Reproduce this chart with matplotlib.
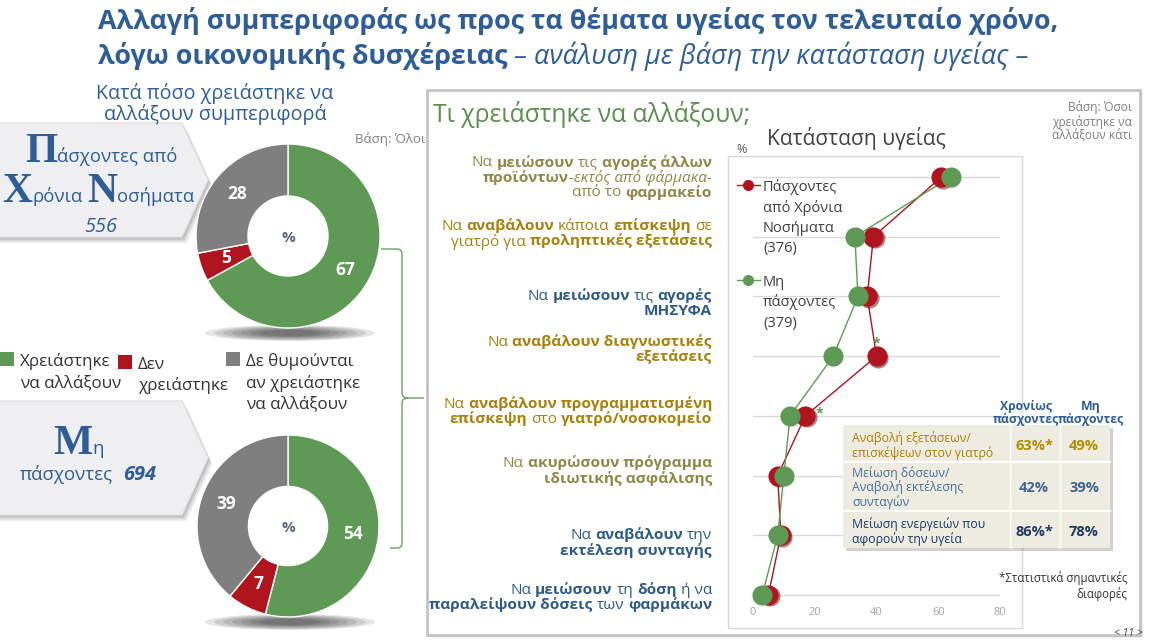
import math
import matplotlib
matplotlib.use('Agg')
import matplotlib.pyplot as plt
from matplotlib.patches import Polygon, Rectangle, Ellipse, PathPatch
from matplotlib.path import Path
from matplotlib.lines import Line2D
from matplotlib.transforms import offset_copy

W, H = 1149, 641

# ---- data -------------------------------------------------------------
split_labels = ['Χρειάστηκε\nνα αλλάξουν', 'Δεν\nχρειάστηκε', 'Δε θυμούνται\nαν χρειάστηκε\nνα αλλάξουν']
chronic_split = [67, 5, 28]
healthy_split = [54, 7, 39]
chronic_n = '556'
healthy_n = '694'

chronic_pct = [61, 39, 37, 40, 17, 8, 9, 5]
healthy_pct = [64, 33, 34, 26, 12, 10, 8, 3]
signif_rows = [3, 4]
legend_chronic = ['Πάσχοντες', 'από Χρόνια', 'Νοσήματα', '(376)']
legend_healthy = ['Μη', 'πάσχοντες', '(379)']
x_ticks = [0, 20, 40, 60, 80]

# each label: lines of (text, style) with style '' / 'b' / 'i'
change_labels = [
    [[('Να ', ''), ('μειώσουν', 'b'), (' τις ', ''), ('αγορές άλλων', 'b')],
     [('προϊόντων', 'b'), ('-εκτός από φάρμακα-', 'i')],
     [('από το ', ''), ('φαρμακείο', 'b')]],
    [[('Να ', ''), ('αναβάλουν', 'b'), (' κάποια ', ''), ('επίσκεψη', 'b'), (' σε', '')],
     [('γιατρό για ', ''), ('προληπτικές εξετάσεις', 'b')]],
    [[('Να ', ''), ('μειώσουν', 'b'), (' τις ', ''), ('αγορές', 'b')],
     [('ΜΗΣΥΦΑ', 'b')]],
    [[('Να ', ''), ('αναβάλουν διαγνωστικές', 'b')],
     [('εξετάσεις', 'b')]],
    [[('Να ', ''), ('αναβάλουν προγραμματισμένη', 'b')],
     [('επίσκεψη', 'b'), (' στο ', ''), ('γιατρό/νοσοκομείο', 'b')]],
    [[('Να ', ''), ('ακυρώσουν πρόγραμμα', 'b')],
     [('ιδιωτικής ασφάλισης', 'b')]],
    [[('Να ', ''), ('αναβάλουν', 'b'), (' την', '')],
     [('εκτέλεση συνταγής', 'b')]],
    [[('Να ', ''), ('μειώσουν', 'b'), (' τη ', ''), ('δόση', 'b'), (' ή να', '')],
     [('παραλείψουν δόσεις', 'b'), (' των ', ''), ('φαρμάκων', 'b')]],
]

table_head = [['Χρονίως', 'πάσχοντες'], ['Μη', 'πάσχοντες']]
table_rows = [['Αναβολή εξετάσεων/', 'επισκέψεων στον γιατρό'],
              ['Μείωση δόσεων/', 'Αναβολή εκτέλεσης', 'συνταγών'],
              ['Μείωση ενεργειών που', 'αφορούν την υγεία']]
table_chronic = ['63%*', '42%', '86%*']
table_healthy = ['49%', '39%', '78%']

# ---- style ------------------------------------------------------------
SANS = ['Open Sans', 'DejaVu Sans']
SERIF = ['Liberation Serif', 'DejaVu Serif']
plt.rcParams['font.family'] = SANS

TBLUE = '#2F5E97'
GREEN = '#5E9A55'
RED = '#B0141E'
GREY = '#7F7F7F'
OLIVE = '#8F8746'
GOLD = '#A8800A'
BLUE = '#2E5A88'
label_colors = [OLIVE, GOLD, BLUE, GOLD, GOLD, OLIVE, BLUE, BLUE]
label_y = [176, 232, 302, 348, 410, 469, 541, 596]

fig = plt.figure(figsize=(W / 100, H / 100), dpi=100)
fig.patch.set_facecolor('white')
R = fig.canvas.get_renderer()


def px_axes(x0, y0, x1, y1):
    return fig.add_axes([x0 / W, 1 - y1 / H, (x1 - x0) / W, (y1 - y0) / H])


bg = px_axes(0, 0, W, H)
bg.set_xlim(0, W)
bg.set_ylim(H, 0)
bg.axis('off')


def kw(size, family=SANS, weight='normal', style='normal'):
    return dict(fontsize=size, fontfamily=family, fontweight=weight, fontstyle=style)


def text_w(s, k):
    t = bg.text(0, 0, s, **k)
    w = t.get_window_extent(renderer=R).width
    t.remove()
    return w


def seg_w(s, k):
    return text_w('|' + s + '|', k) - text_w('||', k)


def fit(s, k, target):
    return k['fontsize'] * target / seg_w(s, k)


def rich(ax, x, y, segs, ha='left', color='black', va='baseline'):
    ws = [seg_w(s, k) for s, k in segs]
    tot = sum(ws)
    x0 = {'left': x, 'right': x - tot, 'center': x - tot / 2}[ha]
    for (s, k), w in zip(segs, ws):
        lead = len(s) - len(s.lstrip(' '))
        off = seg_w(' ' * lead, k) if lead else 0
        ax.text(x0 + off, y, s.strip(' '), ha='left', va=va, color=color, **k)
        x0 += w
    return tot


def shadow_poly(pts, dx=3, dy=4):
    for k, a in [(1.6, 0.05), (1.2, 0.07), (0.8, 0.09), (0.4, 0.1)]:
        bg.add_patch(Polygon([(x + dx * k, y + dy * k) for x, y in pts],
                             closed=True, color='black', alpha=a, lw=0))


# ---- background boxes ----------------------------------------------------
for top, bot in [(123, 237), (401, 515)]:
    mid = (top + bot) / 2
    pts = [(-30, top), (182, top), (208, mid), (182, bot), (-30, bot)]
    shadow_poly(pts)
    bg.add_patch(Polygon(pts, closed=True, facecolor='#EFEFF1', edgecolor='#E2E2E4', lw=1))

panel = [(427, 90), (1140, 90), (1140, 635), (427, 635)]
shadow_poly(panel, 2, 2)
bg.add_patch(Polygon(panel, closed=True, facecolor='white', edgecolor='#C4C4C4', lw=2))
bg.add_patch(Rectangle((728, 156), 294, 472, facecolor='white', edgecolor='#D9D9D9', lw=1))

# donut shadows
for cy in (333, 622):
    for k in range(7):
        bg.add_patch(Ellipse((290, cy), 170 - k * 18, 16 - k * 1.6, color='black', alpha=0.1, lw=0))

# brace
verts = [(381, 249), (397, 249), (402, 249), (402, 254), (402, 393), (402, 398), (408, 398),
         (424, 398), (408, 398), (402, 398), (402, 403), (402, 543), (402, 548), (397, 548), (390, 548)]
codes = [Path.MOVETO, Path.LINETO, Path.CURVE3, Path.CURVE3, Path.LINETO, Path.CURVE3, Path.CURVE3,
         Path.LINETO, Path.MOVETO, Path.CURVE3, Path.CURVE3, Path.LINETO, Path.CURVE3, Path.CURVE3, Path.LINETO]
bg.add_patch(PathPatch(Path(verts, codes), facecolor='none', edgecolor='#6FA063', lw=1))

# ---- donuts ------------------------------------------------------------
SPLIT_COLS = [GREEN, RED, GREY]


def donut(cx, cy, rad, vals):
    ax = px_axes(cx - rad, cy - rad, cx + rad, cy + rad)
    wedges, _ = ax.pie(vals, colors=SPLIT_COLS, startangle=90, counterclock=False, radius=1,
                       wedgeprops=dict(width=0.565, edgecolor='white', linewidth=1))
    for w, v in zip(wedges, vals):
        ang = math.radians((w.theta1 + w.theta2) / 2)
        ax.text(0.72 * math.cos(ang), 0.72 * math.sin(ang), str(v), ha='center', va='center',
                color='white', fontweight='bold', fontsize=12.5)
    ax.text(0, -0.02, '%', ha='center', va='center', color='#5A6577', fontweight='bold', fontsize=11)
    ax.set_xlim(-1, 1)
    ax.set_ylim(-1, 1)
    ax.set_aspect('equal')
    ax.axis('off')


donut(288, 236, 92, chronic_split)
donut(288, 526, 91, healthy_split)

# ---- line chart ----------------------------------------------------------
ax = px_axes(753, 160, 1000, 603)
rows = list(range(len(chronic_pct)))
ax.set_xlim(0, 80)
ax.set_ylim(7 + 8 / 59.7, -17 / 59.7)
ax.set_yticks(rows)
ax.set_yticklabels([])
ax.yaxis.grid(True, color='#D9D9D9', lw=1)
ax.set_axisbelow(True)
ax.set_xticks(x_ticks)
ax.tick_params(axis='both', length=0)
ax.tick_params(axis='x', labelsize=8, labelcolor='#A6A6A6', pad=3)
for s in ax.spines.values():
    s.set_visible(False)
ax.patch.set_alpha(0)
ax.plot(chronic_pct, rows, color=RED, lw=1, zorder=2)
ax.plot(healthy_pct, rows, color=GREEN, lw=1, zorder=2)
sh = offset_copy(ax.transData, fig=fig, x=1.5, y=-1.5, units='dots')
ax.scatter(chronic_pct, rows, s=210, color='#5a0a0e', alpha=0.5, transform=sh, zorder=3, clip_on=False, lw=0)
ax.scatter(chronic_pct, rows, s=210, color=RED, zorder=4, clip_on=False, lw=0)
ax.scatter(healthy_pct, rows, s=210, color=GREEN, zorder=5, clip_on=False, lw=0)
ax.annotate('*', (chronic_pct[signif_rows[0]], signif_rows[0]), xytext=(0, 9), textcoords='offset points',
            ha='center', va='center', color=GREEN, fontsize=10, fontweight='bold', annotation_clip=False)
ax.annotate('*', (chronic_pct[signif_rows[1]], signif_rows[1]), xytext=(10, 2), textcoords='offset points',
            ha='center', va='center', color=GREEN, fontsize=10, fontweight='bold', annotation_clip=False)

# ---- overlay (texts, table) -------------------------------------------------
ov = px_axes(0, 0, W, H)
ov.set_xlim(0, W)
ov.set_ylim(H, 0)
ov.axis('off')

# title
t1 = 'Αλλαγή συμπεριφοράς ως προς τα θέματα υγείας τον τελευταίο χρόνο,'
tk = kw(20, weight='bold')
tk['fontsize'] = fit(t1, tk, 962)
ov.text(98, 29, t1, ha='left', va='baseline', color=TBLUE, **tk)
it = kw(16, style='italic')
it['fontsize'] = fit(' – ανάλυση με βάση την κατάσταση υγείας –', it, 522)
rich(ov, 98, 64, [('λόγω οικονομικής δυσχέρειας', tk),
                  (' – ανάλυση με βάση την κατάσταση υγείας –', it)], color=TBLUE)

# left heading
hk = kw(14)
hk['fontsize'] = min(14.2, fit('Κατά πόσο χρειάστηκε να', hk, 270))
ov.text(215, 91, 'Κατά πόσο χρειάστηκε να', ha='center', va='center_baseline', color=TBLUE, **hk)
ov.text(215, 112, 'αλλάξουν συμπεριφορά', ha='center', va='center_baseline', color=TBLUE, **hk)
ov.text(355, 138, 'Βάση: Όλοι', ha='left', va='center_baseline', color=GREY, fontsize=9.5)

# callout texts
big = kw(30, family=SERIF, weight='bold')
sm = kw(14)
sm['fontsize'] = fit('άσχοντες από', sm, 122)
rich(ov, 25, 162, [('Π', big), ('άσχοντες από', sm)], color=TBLUE)
rich(ov, 2, 202, [('Χ', big), ('ρόνια ', sm), ('Ν', big), ('οσήματα', sm)], color=TBLUE)
ov.text(101, 224, chronic_n, ha='center', va='center_baseline', color=TBLUE, fontsize=sm['fontsize'] + 1,
        fontstyle='italic')
rich(ov, 53, 454, [('Μ', big), ('η', sm)], color=TBLUE)
rich(ov, 20, 480, [('πάσχοντες  ', sm), (healthy_n, kw(sm['fontsize'] + 1, weight='bold', style='italic'))],
     color=TBLUE)

# donut legend
lk = kw(12)
lk['fontsize'] = fit('Χρειάστηκε', lk, 90)
for (x, y), lab, c in zip([(0, 352), (118, 355), (226, 352)], split_labels, SPLIT_COLS):
    ov.add_patch(Rectangle((x, y), 14, 14, color=c, lw=0))
    for i, line in enumerate(lab.split('\n')):
        ov.text(x + 20, y + 8 + 21 * i, line, ha='left', va='center_baseline', color='#333333', **lk)

# right panel header
gk = kw(16)
gk['fontsize'] = fit('Τι χρειάστηκε να αλλάξουν;', gk, 317)
ov.text(433, 112, 'Τι χρειάστηκε να αλλάξουν;', ha='left', va='center_baseline', color='#5B8F4F', **gk)
ck = kw(14)
ck['fontsize'] = fit('Κατάσταση υγείας', ck, 180)
ov.text(767, 136, 'Κατάσταση υγείας', ha='left', va='center_baseline', color='#404040', **ck)
ov.text(742, 148, '%', ha='center', va='center_baseline', color='#595959', fontsize=9)
for i, line in enumerate(['Βάση: Όσοι', 'χρειάστηκε να', 'αλλάξουν κάτι']):
    ov.text(1132, 106 + 14.5 * i, line, ha='right', va='center_baseline', color=GREY, fontsize=8.6)

# row labels
STY = {'': {}, 'b': {'weight': 'bold'}, 'i': {'style': 'italic'}}
ref = change_labels[1][0]
rk = 11
rk = min(11.1, rk * 290 / sum(seg_w(s, kw(rk, **STY[st])) for s, st in ref))
for lab, yc, col in zip(change_labels, label_y, label_colors):
    n = len(lab)
    for i, line in enumerate(lab):
        y = yc + (i - (n - 1) / 2) * 15
        rich(ov, 712, y, [(s, kw(rk, **STY[st])) for s, st in line], ha='right', color=col,
             va='center_baseline')

# chart legend
for y0, col, lines in [(185, RED, legend_chronic), (280, GREEN, legend_healthy)]:
    ov.add_line(Line2D([737, 760], [y0, y0], color=col, lw=1))
    ov.add_line(Line2D([748], [y0], marker='o', ms=7, color=col, lw=0))
    for i, line in enumerate(lines):
        ov.text(763, y0 + 20.5 * i, line, ha='left', va='center_baseline', color='#404040', fontsize=10.5)

# table
ov.add_patch(Rectangle((846, 428), 267, 123, color='black', alpha=0.18, lw=0))
ov.add_patch(Rectangle((843, 425), 267, 123, facecolor='#EEEBE1', lw=0))
for y in (462, 511):
    ov.add_line(Line2D([843, 1110], [y, y], color='white', lw=1.5))
for x in (1010, 1060):
    ov.add_line(Line2D([x, x], [425, 548], color='white', lw=1))
hdk = kw(8.8, weight='bold')
for xc, lines in zip((1026, 1091), table_head):
    for i, line in enumerate(lines):
        ov.text(xc, 405 + 13.5 * i, line, ha='center', va='center_baseline', color=TBLUE, **hdk)
tbk = kw(10)
tbk['fontsize'] = fit('επισκέψεων στον γιατρό', tbk, 141)
row_c = [(GOLD, '#B08D00'), ('#4A6E98', '#3E6490'), ('#1F3864', '#1F3864')]
for lines, yc, (tc, vc), a, b in zip(table_rows, (444, 486, 530), row_c, table_chronic, table_healthy):
    n = len(lines)
    for i, line in enumerate(lines):
        ov.text(852, yc + (i - (n - 1) / 2) * 14.5, line, ha='left', va='center_baseline', color=tc, **tbk)
    ov.text(1034, yc, a, ha='center', va='center_baseline', color=vc, fontsize=10.5, fontweight='bold')
    ov.text(1084, yc, b, ha='center', va='center_baseline', color=vc, fontsize=10.5, fontweight='bold')

ov.text(1127, 577, '*Στατιστικά σημαντικές', ha='right', va='center_baseline', color='#333333', fontsize=8.3)
ov.text(1127, 593, 'διαφορές', ha='right', va='center_baseline', color='#333333', fontsize=8.3)
ov.text(1128, 634, '< 11 >', ha='center', va='center', color='#404040', fontsize=7.5, fontstyle='italic')

fig.savefig('out.png', dpi=100)
